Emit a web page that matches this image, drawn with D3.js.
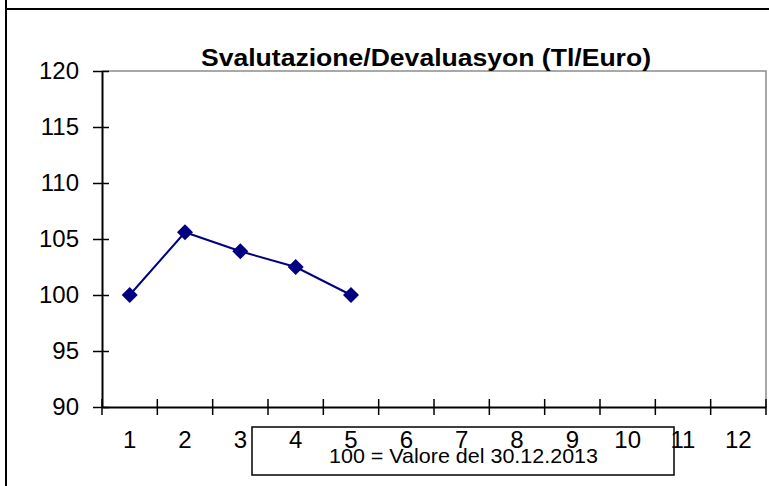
<!DOCTYPE html>
<html>
<head>
<meta charset="utf-8">
<title>Svalutazione/Devaluasyon</title>
<style>
body { margin: 0; background: #fff; }
svg { display: block; font-family: "Liberation Sans", Arial, sans-serif; }
.axis path { stroke: #000; stroke-width: 2px; }
.axis line { stroke: #000; stroke-width: 1.5px; }
.axis text { font-size: 24px; fill: #000; }
</style>
<script src="https://cdn.jsdelivr.net/npm/d3@7"></script>
</head>
<body>
<svg width="769" height="486"></svg>
<script>
var months = [1, 2, 3, 4, 5, 6, 7, 8, 9, 10, 11, 12];
var values = [100, 105.6, 103.9, 102.5, 100];
var yTicks = [90, 95, 100, 105, 110, 115, 120];
var title = "Svalutazione/Devaluasyon (Tl/Euro)";
var note = "100 = Valore del 30.12.2013";

var svg = d3.select("svg"),
    margin = {top: 71, right: 3, bottom: 79, left: 102},
    width = 769 - margin.left - margin.right,
    height = 486 - margin.top - margin.bottom;

// outer frame (only top and left visible)
svg.append("line").attr("x1", 6).attr("x2", 6).attr("y1", 0).attr("y2", 486)
    .attr("stroke", "#000").attr("stroke-width", 2);
svg.append("line").attr("x1", 6).attr("x2", 769).attr("y1", 9).attr("y2", 9)
    .attr("stroke", "#000").attr("stroke-width", 2);

// note box sits under the axis labels
svg.append("rect")
    .attr("x", 252).attr("y", 427).attr("width", 422).attr("height", 48)
    .attr("fill", "#fff").attr("stroke", "#000").attr("stroke-width", 1.5);
svg.append("text")
    .attr("x", 329).attr("y", 463)
    .attr("textLength", 269).attr("lengthAdjust", "spacingAndGlyphs")
    .style("font-size", "21px")
    .text(note);

var g = svg.append("g").attr("transform", "translate(" + margin.left + "," + margin.top + ")");

var x = d3.scaleBand().domain(months).range([0, width]),
    y = d3.scaleLinear().domain([90, 120]).range([height, 0]);

// plot area border, top and right in grey
g.append("path")
    .attr("d", "M0," + y(120) + "H" + width + "V" + y(90))
    .attr("fill", "none").attr("stroke", "#8c8c8c").attr("stroke-width", 1.5);

// y axis with crossing ticks
var yAxis = g.append("g")
    .attr("class", "axis axis--y")
    .call(d3.axisLeft(y).tickValues(yTicks).tickSize(9).tickSizeOuter(0).tickPadding(14));
yAxis.selectAll(".tick line").attr("x1", 7);

// x axis: labels in the band centers, ticks on the band edges
var xAxis = g.append("g")
    .attr("class", "axis axis--x")
    .attr("transform", "translate(0," + height + ")")
    .call(d3.axisBottom(x).tickSize(0).tickPadding(24));
xAxis.selectAll(".tick line").remove();
xAxis.selectAll("line.edge")
    .data(months.map(function(m) { return x(m); }).concat([x.range()[1]]))
    .enter().append("line")
      .attr("class", "edge")
      .attr("x1", function(d) { return d; })
      .attr("x2", function(d) { return d; })
      .attr("y1", -8).attr("y2", 8);

var line = d3.line()
    .x(function(d, i) { return x(months[i]) + x.bandwidth() / 2; })
    .y(function(d) { return y(d); });

g.append("path")
    .datum(values)
    .attr("fill", "none")
    .attr("stroke", "#000080")
    .attr("stroke-width", 2)
    .attr("d", line);

g.selectAll(".point")
    .data(values)
    .enter().append("path")
      .attr("class", "point")
      .attr("transform", function(d, i) { return "translate(" + (x(months[i]) + x.bandwidth() / 2) + "," + y(d) + ")"; })
      .attr("d", "M0,-8L8,0L0,8L-8,0Z")
      .attr("fill", "#000080");

svg.append("text")
    .attr("x", 201).attr("y", 66)
    .attr("textLength", 450).attr("lengthAdjust", "spacingAndGlyphs")
    .style("font-size", "23px")
    .style("font-weight", "bold")
    .text(title);
</script>
</body>
</html>
